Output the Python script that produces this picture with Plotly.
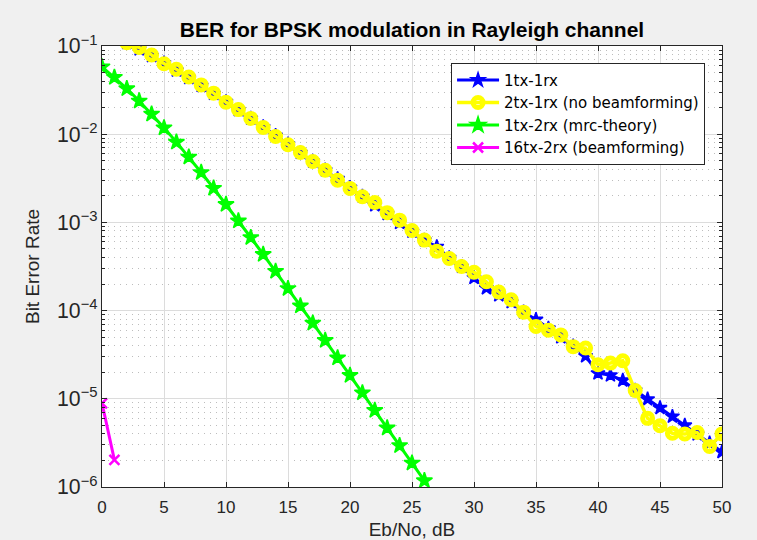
import plotly.graph_objects as go

# Eb/No (dB) axes for each curve
ebno_1tx1rx = list(range(0, 51))
ebno_2tx1rx = list(range(0, 51))
ebno_mrc = list(range(0, 27))
ebno_bf = [0, 1]

ber_1tx1rx = [0.1465, 0.1267, 0.1085, 0.0919, 0.0771, 0.0642, 0.0530, 0.0435, 0.0355, 0.0288,
              0.0233, 0.0188, 0.0151, 0.0121, 0.00967, 0.00772, 0.00616, 0.00491, 0.00392, 0.00312,
              0.00248, 0.00197, 0.00157, 0.00125, 0.000992, 0.000789, 0.000627, 0.000530, 0.000396, 0.000315,
              0.000236, 0.000180, 0.000150, 0.000125, 9.6e-05, 7.9e-05, 6.3e-05, 5.0e-05, 3.96e-05, 3.05e-05,
              1.95e-05, 1.85e-05, 1.62e-05, 1.25e-05, 9.9e-06, 7.9e-06, 6.3e-06, 5.0e-06, 3.96e-06, 3.15e-06,
              2.5e-06]

ber_2tx1rx = [0.1470, 0.1270, 0.1090, 0.0960, 0.0790, 0.0630, 0.0545, 0.0445, 0.0362, 0.0292,
              0.0230, 0.0190, 0.0151, 0.0119, 0.0094, 0.0076, 0.0062, 0.0049, 0.0039, 0.0030,
              0.00243, 0.00195, 0.00168, 0.00129, 0.00106, 0.00081, 0.00063, 0.00047, 0.00039, 0.000316,
              0.000272, 0.000212, 0.000162, 0.000133, 9.6e-05, 6.6e-05, 6.0e-05, 5.3e-05, 3.9e-05, 3.76e-05,
              2.43e-05, 2.54e-05, 2.7e-05, 1.24e-05, 6.0e-06, 4.94e-06, 4.07e-06, 4.0e-06, 4.15e-06, 2.88e-06,
              4.0e-06]

ber_mrc = [0.0581, 0.0441, 0.0328, 0.0238, 0.0169, 0.0118, 0.00813, 0.00551, 0.00368, 0.00244,
           0.00160, 0.00104, 0.000674, 0.000434, 0.000279, 0.000178, 0.000113, 7.22e-05, 4.59e-05, 2.91e-05,
           1.84e-05, 1.17e-05, 7.39e-06, 4.67e-06, 2.95e-06, 1.87e-06, 1.18e-06]

ber_bf = [8.9e-06, 2.03e-06]

names = ["1tx-1rx", "2tx-1rx (no beamforming)", "1tx-2rx (mrc-theory)", "16tx-2rx (beamforming)"]

fig = go.Figure()
fig.add_trace(go.Scatter(x=ebno_1tx1rx, y=ber_1tx1rx, name=names[0], mode="lines+markers",
                         line=dict(color="#0000ff", width=3),
                         marker=dict(symbol="star", size=10.5, color="#0000ff",
                                     line=dict(color="#0000ff", width=1.5))))
fig.add_trace(go.Scatter(x=ebno_2tx1rx, y=ber_2tx1rx, name=names[1], mode="lines+markers",
                         line=dict(color="#ffff00", width=3.5),
                         marker=dict(symbol="circle-open", size=10, color="#ffff00",
                                     line=dict(color="#ffff00", width=5))))
fig.add_trace(go.Scatter(x=ebno_mrc, y=ber_mrc, name=names[2], mode="lines+markers",
                         line=dict(color="#00ff00", width=3),
                         marker=dict(symbol="star", size=12, color="#00ff00",
                                     line=dict(color="#00ff00", width=1.5))))
fig.add_trace(go.Scatter(x=ebno_bf, y=ber_bf, name=names[3], mode="lines+markers",
                         line=dict(color="#ff00ff", width=3),
                         marker=dict(symbol="x-thin-open", size=10, color="#ff00ff",
                                     line=dict(color="#ff00ff", width=2.5))))

axis_col = "#262626"
fig.update_layout(
    width=757, height=540,
    paper_bgcolor="#f0f0f0", plot_bgcolor="#ffffff",
    margin=dict(l=102, r=35, t=46, b=53),
    font=dict(family="Liberation Sans, Arial, sans-serif", size=16, color=axis_col),
    title=dict(text="<b>BER for BPSK modulation in Rayleigh channel</b>",
               x=0.5, xref="paper", xanchor="center",
               y=1 - 30 / 540, yref="container", yanchor="middle",
               font=dict(size=21, color="#000000")),
    showlegend=True,
    legend=dict(x=0.563, y=0.962, xanchor="left", yanchor="top",
                bgcolor="#ffffff", bordercolor="#262626", borderwidth=1,
                font=dict(family="DejaVu Sans, sans-serif", size=15, color="#000000"),
                itemwidth=42, tracegroupgap=0),
)
fig.update_xaxes(range=[0, 50], dtick=5, tick0=0, automargin=False,
                 showline=True, linecolor=axis_col, linewidth=1, mirror="allticks",
                 ticks="inside", ticklen=5, tickcolor=axis_col,
                 tickfont=dict(size=17), ticklabelstandoff=5,
                 showgrid=True, gridcolor="#dcdcdc", gridwidth=1, zeroline=False,
                 title=dict(text="Eb/No, dB", font=dict(size=19), standoff=10))
fig.update_yaxes(type="log", range=[-6, -1], dtick=1, exponentformat="power", automargin=False,
                 showline=True, linecolor=axis_col, linewidth=1, mirror="allticks",
                 ticks="inside", ticklen=5, tickcolor=axis_col,
                 tickfont=dict(size=17), ticklabelstandoff=0,
                 showgrid=True, gridcolor="#dcdcdc", gridwidth=1, zeroline=False,
                 minor=dict(dtick="D1", ticks="inside", ticklen=3, tickcolor=axis_col,
                            showgrid=True, gridcolor="#bdbdbd", griddash="1px,5px", gridwidth=1),
                 title=dict(text="Bit Error Rate", font=dict(size=19), standoff=12))

fig.write_html("out.html", config={"displayModeBar": False},
               post_script="document.body.style.margin='0';document.body.style.background='#f0f0f0';")
